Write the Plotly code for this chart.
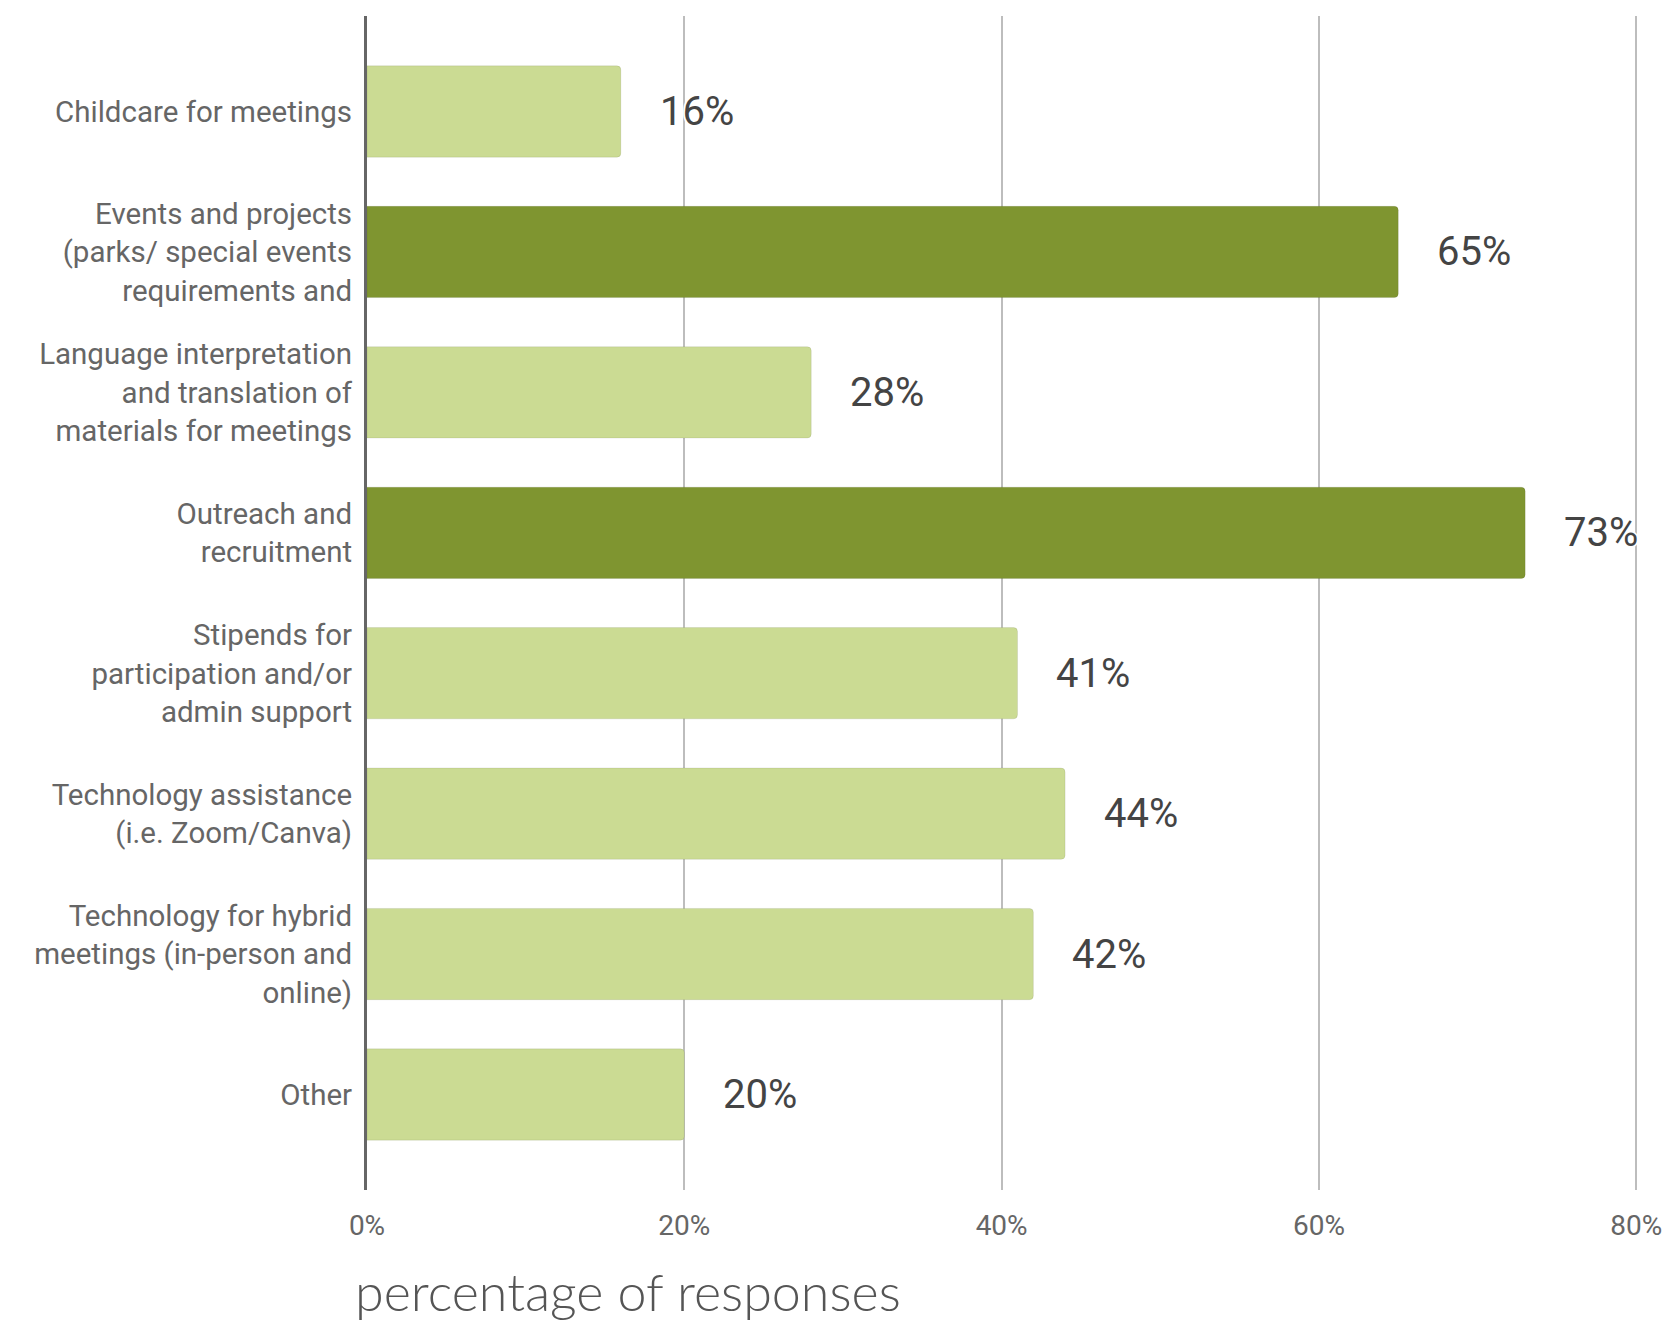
import plotly.graph_objects as go

# Survey categories (tick labels wrap over several lines)
categories = [
    "Childcare for meetings",
    "Events and projects<br>(parks/ special events<br>requirements and",
    "Language interpretation<br>and translation of<br>materials for meetings",
    "Outreach and<br>recruitment",
    "Stipends for<br>participation and/or<br>admin support",
    "Technology assistance<br>(i.e. Zoom/Canva)",
    "Technology for hybrid<br>meetings (in-person and<br>online)",
    "Other",
]
percent_values = [16, 65, 28, 73, 41, 44, 42, 20]
highlighted = [False, True, False, True, False, False, False, False]

x_tick_values = [0, 20, 40, 60, 80]
x_tick_labels = ["0%", "20%", "40%", "60%", "80%"]

LIGHT_GREEN = "#cbdb93"
DARK_GREEN = "#7f9530"

bar_colors = [DARK_GREEN if h else LIGHT_GREEN for h in highlighted]

fig = go.Figure()
fig.add_trace(go.Bar(
    y=categories,
    x=percent_values,
    orientation="h",
    marker=dict(color=bar_colors, line=dict(color="rgba(0,0,0,0.08)", width=1)),
    hoverinfo="skip",
    showlegend=False,
))

# Value labels to the right of each bar
halo = ("white 2px 0 0, white -2px 0 0, white 0 2px 0, white 0 -2px 0, "
        "white 1px 1px 0, white -1px -1px 0, white 1px -1px 0, white -1px 1px 0")
for cat, val in zip(categories, percent_values):
    fig.add_annotation(
        x=val, y=cat, xref="x", yref="y",
        text=f"{val}%", showarrow=False,
        xanchor="left", yanchor="middle", xshift=37,
        font=dict(family="Roboto", size=40, color="#444444", shadow=halo),
    )

# Axis title placed under the tick labels, left-aligned with the axis
fig.add_annotation(
    x=-0.011, y=-0.086, xref="paper", yref="paper",
    text="percentage of responses", showarrow=False,
    xanchor="left", yanchor="middle",
    font=dict(family="Lato", size=52, color="#555555", weight=300),
)

fig.update_layout(
    width=1666, height=1326,
    margin=dict(l=367, r=25, t=16, b=136, autoexpand=False),
    paper_bgcolor="white", plot_bgcolor="white",
    bargap=0.35,
    barcornerradius=4,
    xaxis=dict(
        range=[0, 80.3],
        automargin=False,
        tickvals=x_tick_values, ticktext=x_tick_labels,
        showgrid=True, gridcolor="#bdbdbd", gridwidth=2,
        zeroline=False, showline=False,
        ticks="", ticklabelstandoff=16,
        tickfont=dict(family="Roboto", size=28, color="#666666"),
    ),
    yaxis=dict(
        categoryorder="array", categoryarray=categories,
        range=[7.68, -0.68],
        automargin=False,
        showgrid=False, zeroline=False,
        showline=True, linecolor="#666666", linewidth=3,
        ticks="", ticklabelstandoff=6,
        tickfont=dict(family="Roboto", size=29.5, color="#666666"),
    ),
)

fig.write_html("out.html")
